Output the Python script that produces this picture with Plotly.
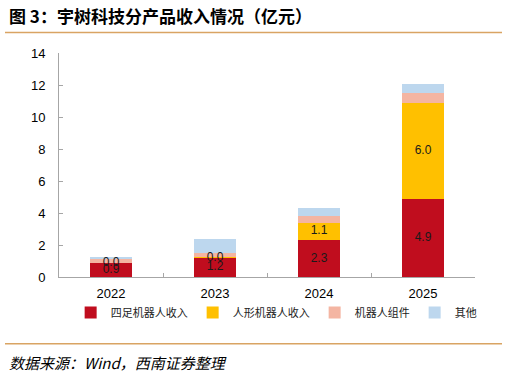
import plotly.graph_objects as go

years = ["2022", "2023", "2024", "2025"]
quadruped = [0.9, 1.2, 2.3, 4.9]
humanoid = [0.0, 0.03, 1.1, 6.0]
components = [0.28, 0.3, 0.4, 0.6]
others = [0.06, 0.84, 0.54, 0.54]

names = ["四足机器人收入", "人形机器人收入", "机器人组件", "其他"]
colors = ["#C00D1E", "#FFC000", "#F4B5A2", "#BDD7EE"]
series = [quadruped, humanoid, components, others]
labelled = [True, True, False, False]

fig = go.Figure()
for name, color, vals in zip(names, colors, series):
    fig.add_trace(go.Bar(x=years, y=vals, name=name, marker=dict(color=color, line=dict(width=0)),
                         width=0.4))

# data labels at stack midpoints
base = [0.0] * len(years)
for vals, lab in zip(series, labelled):
    if lab:
        mids = [b + v / 2 for b, v in zip(base, vals)]
        fig.add_trace(go.Scatter(x=years, y=mids, mode="text",
                                 text=[f"{v:.1f}" for v in vals],
                                 textfont=dict(family="Liberation Sans, Arial", size=12, color="#1a1a1a"),
                                 showlegend=False, hoverinfo="skip"))
    base = [b + v for b, v in zip(base, vals)]

fig.update_layout(
    barmode="stack",
    width=507, height=376,
    margin=dict(l=59, r=32, t=53, b=99),
    paper_bgcolor="white", plot_bgcolor="white",
    font=dict(family="Liberation Sans, Arial", size=12, color="#000"),
    legend=dict(orientation="h", x=0.028, xanchor="left", y=-0.158, yanchor="middle",
                font=dict(family="Noto Sans CJK SC", size=11, color="#222"),
                bgcolor="rgba(0,0,0,0)", itemwidth=30, traceorder="normal"),
    showlegend=True,
)
fig.update_xaxes(showline=True, linecolor="#A6A6A6", linewidth=1, ticks="inside", ticklen=4,
                 tickcolor="#A6A6A6", tickson="boundaries", tickfont=dict(size=13),
                 ticklabelstandoff=4)
fig.update_yaxes(range=[0, 14], dtick=2, showline=True, linecolor="#A6A6A6", linewidth=1,
                 ticks="inside", ticklen=4, tickcolor="#A6A6A6", showgrid=False, zeroline=False,
                 tickfont=dict(size=13), ticklabelstandoff=10)

fig.add_annotation(text="<b>图 3：宇树科技分产品收入情况（亿元）</b>", xref="paper", yref="paper",
                   x=-59/416, y=(276.7-15)/224, xanchor="left", yanchor="middle", showarrow=False,
                   font=dict(family="Noto Sans CJK SC", size=17, color="#000"), xshift=7)
fig.add_annotation(text="<i>数据来源：Wind，西南证券整理</i>", xref="paper", yref="paper",
                   x=-59/416, y=(276.7-362)/224, xanchor="left", yanchor="middle", showarrow=False,
                   font=dict(family="Noto Sans CJK SC", size=15, color="#000"), xshift=7)
for yy in [32.3, 343.5]:
    fig.add_shape(type="line", xref="paper", yref="paper", x0=-54/416, x1=443/416,
                  y0=(276.7-yy)/224, y1=(276.7-yy)/224, line=dict(color="#D9A463", width=1.5))

fig.write_html("out.html")
